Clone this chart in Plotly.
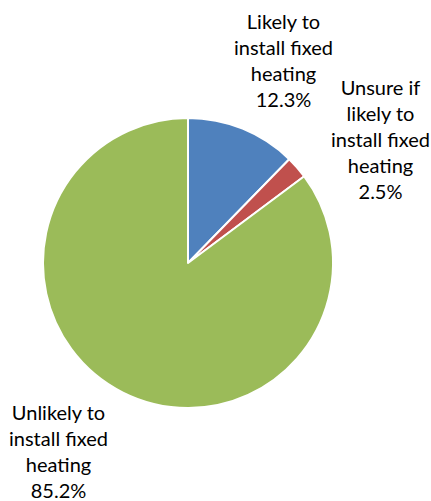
import plotly.graph_objects as go

categories = ["Likely to<br>install fixed<br>heating",
              "Unsure if<br>likely to<br>install fixed<br>heating",
              "Unlikely to<br>install fixed<br>heating"]
values = [12.3, 2.5, 85.2]
colors = ["#4F81BD", "#C0504D", "#9BBB59"]

W, H = 431, 501
# label anchor positions (pixels, center of text block)
label_pos = [(283, 60), (380, 139), (58, 451)]
cx, cy, r = 188, 263, 145

fig = go.Figure(go.Pie(
    labels=categories, values=values, sort=False, direction="clockwise",
    rotation=0, textinfo="none", hoverinfo="label+percent",
    marker=dict(colors=colors, line=dict(color="white", width=2)),
    domain=dict(x=[(cx - r) / W, (cx + r) / W],
                y=[(H - (cy + r)) / H, (H - (cy - r)) / H]),
    showlegend=False,
))

for cat, v, (px, py) in zip(categories, values, label_pos):
    fig.add_annotation(
        x=px / W, y=(H - py) / H, xref="paper", yref="paper",
        text=f"{cat}<br>{v:.1f}%", showarrow=False,
        xanchor="center", yanchor="middle", align="center",
        font=dict(family="Lato", size=20, color="#000000"),
    )

fig.update_layout(width=W, height=H, margin=dict(l=0, r=0, t=0, b=0),
                  paper_bgcolor="white", plot_bgcolor="white")
fig.write_html("out.html", config={"displayModeBar": False},
               post_script="document.body.style.margin='0';document.body.style.overflow='hidden';")
